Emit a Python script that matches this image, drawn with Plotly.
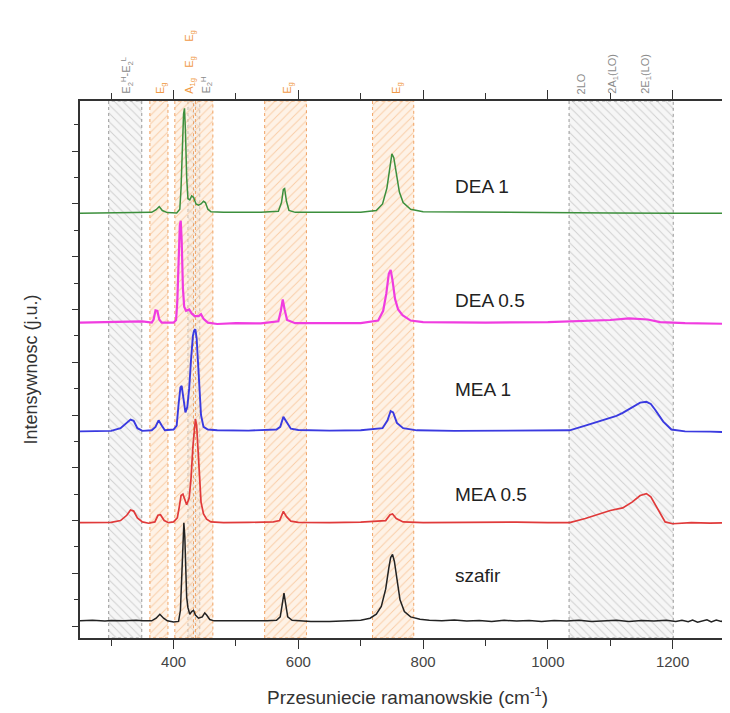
import plotly.graph_objects as go

# ---------------- data ----------------
szafir_x = [250, 270, 290, 300, 320, 340, 350, 365, 372, 378, 384, 390, 400, 408, 411, 413, 415, 416.5, 418, 419.5, 421, 423, 426, 429, 432, 435, 440, 446, 450, 453, 458, 465, 480, 500, 520, 550, 565, 571, 574, 577, 580, 583, 590, 620, 650, 680, 700, 715, 725, 733, 740, 745, 748, 751, 754, 758, 763, 770, 780, 795, 810, 830, 850, 870, 890, 910, 930, 950, 970, 990, 1010, 1030, 1050, 1070, 1090, 1110, 1130, 1150, 1170, 1190, 1205, 1215, 1225, 1232, 1240, 1248, 1255, 1262, 1270, 1278, 1285, 1292, 1300]
szafir_y = [0.20, 0.22, 0.19, 0.21, 0.20, 0.22, 0.20, 0.20, 0.30, 0.45, 0.30, 0.20, 0.16, 0.18, 0.6, 1.6, 3.2, 3.92, 3.4, 2.0, 1.1, 0.7, 0.45, 0.55, 0.60, 0.42, 0.30, 0.35, 0.50, 0.42, 0.25, 0.20, 0.20, 0.19, 0.20, 0.20, 0.22, 0.35, 0.8, 1.25, 0.8, 0.35, 0.22, 0.18, 0.18, 0.20, 0.22, 0.30, 0.45, 0.75, 1.4, 2.2, 2.6, 2.72, 2.45, 1.8, 1.0, 0.55, 0.35, 0.26, 0.22, 0.20, 0.23, 0.19, 0.21, 0.18, 0.22, 0.19, 0.21, 0.18, 0.21, 0.19, 0.22, 0.18, 0.21, 0.22, 0.18, 0.21, 0.19, 0.22, 0.18, 0.22, 0.17, 0.23, 0.15, 0.21, 0.24, 0.16, 0.23, 0.18, 0.25, 0.17, 0.21]

mea05_x = [250, 280, 300, 315, 325, 331, 336, 342, 350, 360, 370, 375, 379, 385, 392, 400, 406, 409, 412, 415, 418, 421, 425, 428, 431, 433, 435, 437, 439, 441, 444, 448, 453, 460, 480, 520, 560, 570, 576, 581, 588, 600, 650, 700, 740, 747, 751, 757, 768, 800, 850, 900, 950, 1000, 1035, 1060, 1080, 1100, 1120, 1135, 1148, 1158, 1165, 1172, 1180, 1188, 1200, 1230, 1260, 1300]
mea05_y = [3.92, 3.93, 3.93, 4.00, 4.20, 4.40, 4.36, 4.10, 3.95, 3.90, 3.95, 4.20, 4.22, 4.00, 3.92, 3.95, 4.10, 4.50, 4.95, 5.0, 4.75, 4.60, 4.85, 5.6, 6.8, 7.5, 7.85, 7.6, 6.6, 5.6, 4.7, 4.25, 4.05, 3.95, 3.92, 3.93, 3.95, 4.00, 4.35, 4.15, 3.98, 3.93, 3.92, 3.94, 4.00, 4.22, 4.25, 4.08, 3.95, 3.92, 3.93, 3.92, 3.94, 3.92, 3.92, 4.08, 4.22, 4.38, 4.48, 4.70, 4.95, 5.02, 4.90, 4.60, 4.25, 3.95, 3.88, 3.92, 3.90, 3.92]

mea1_x = [250, 280, 300, 315, 325, 331, 336, 342, 350, 365, 371, 376, 381, 386, 400, 405, 408, 411, 413, 416, 419, 422, 425, 428, 431, 433, 435, 437, 439, 441, 444, 448, 455, 470, 520, 565, 571, 576, 581, 588, 600, 650, 700, 735, 743, 748, 752, 758, 768, 790, 850, 900, 950, 1000, 1035, 1060, 1085, 1110, 1120, 1135, 1148, 1158, 1165, 1172, 1185, 1198, 1220, 1260, 1300]
mea1_y = [7.38, 7.39, 7.40, 7.50, 7.70, 7.83, 7.78, 7.50, 7.40, 7.42, 7.55, 7.80, 7.60, 7.42, 7.45, 7.60, 8.40, 9.05, 9.10, 8.60, 8.10, 8.30, 9.0, 10.1, 11.0, 11.2, 11.25, 10.9, 10.0, 9.0, 8.0, 7.55, 7.45, 7.42, 7.41, 7.45, 7.55, 7.93, 7.75, 7.48, 7.43, 7.41, 7.42, 7.50, 7.80, 8.15, 8.10, 7.70, 7.50, 7.42, 7.40, 7.41, 7.40, 7.41, 7.42, 7.60, 7.80, 7.97, 8.08, 8.30, 8.47, 8.50, 8.42, 8.20, 7.75, 7.45, 7.38, 7.37, 7.34]

dea05_x = [250, 300, 350, 365, 368, 371, 374, 377, 381, 400, 404, 406, 408, 410, 411.5, 413, 415, 417, 420, 425, 429, 434, 440, 444, 448, 455, 470, 500, 540, 568, 572, 575, 578, 582, 595, 650, 700, 728, 736, 741, 745, 748, 751, 755, 760, 767, 780, 800, 900, 1000, 1050, 1100, 1130, 1160, 1180, 1220, 1300]
dea05_y = [11.50, 11.52, 11.55, 11.50, 11.62, 11.97, 11.95, 11.62, 11.50, 11.50, 11.60, 12.3, 14.0, 15.2, 15.36, 14.6, 12.8, 12.1, 11.95, 12.0, 11.85, 11.75, 11.75, 11.82, 11.65, 11.50, 11.45, 11.48, 11.47, 11.55, 11.95, 12.38, 12.0, 11.6, 11.48, 11.47, 11.48, 11.58, 11.95, 12.6, 13.35, 13.5, 13.1, 12.4, 12.0, 11.78, 11.58, 11.52, 11.50, 11.52, 11.55, 11.60, 11.66, 11.62, 11.52, 11.48, 11.45]

dea1_x = [250, 300, 350, 365, 372, 377, 382, 390, 405, 410, 412, 414, 416, 417.5, 419, 421, 423, 426, 429, 432, 436, 440, 444, 448, 451, 455, 460, 480, 540, 568, 573, 576, 578, 581, 585, 595, 650, 700, 725, 735, 742, 747, 750, 753, 757, 762, 768, 780, 800, 900, 1000, 1100, 1200, 1300]
dea1_y = [15.65, 15.66, 15.67, 15.68, 15.78, 15.90, 15.75, 15.67, 15.66, 15.80, 16.6, 18.2, 19.4, 19.62, 18.8, 17.0, 16.2, 16.15, 16.30, 16.25, 16.0, 15.95, 16.0, 16.1, 16.05, 15.8, 15.70, 15.68, 15.68, 15.72, 16.05, 16.55, 16.58, 16.1, 15.75, 15.68, 15.67, 15.68, 15.75, 16.0, 16.6, 17.5, 17.9, 17.75, 17.1, 16.45, 16.05, 15.80, 15.70, 15.68, 15.67, 15.66, 15.65, 15.64]

series_names = ["DEA 1", "DEA 0.5", "MEA 1", "MEA 0.5", "szafir"]
series_x = [dea1_x, dea05_x, mea1_x, mea05_x, szafir_x]
series_y = [dea1_y, dea05_y, mea1_y, mea05_y, szafir_y]
series_colors = ["#3c8f3c", "#f03ce0", "#3a3ae0", "#e03a3a", "#222222"]
series_widths = [1.5, 2.2, 1.9, 1.7, 1.5]
label_x = [848, 848, 848, 848, 848]
label_y = [16.65, 12.35, 8.95, 4.98, 1.9]

orange_bands = [(362, 391), (402, 432), (435, 463), (546, 613), (719, 785)]
gray_bands = [(296, 349), (423, 442), (1034, 1201)]

orange_labels = [(380, "E<sub>g</sub>", 0), (426, "A<sub>1g</sub>", 0), (426, "E<sub>g</sub>", 1), (426, "E<sub>g</sub>", 2), (583, "E<sub>g</sub>", 0), (758, "E<sub>g</sub>", 0)]
gray_labels = [(324, "E<sub>2</sub><sup>H</sup>-E<sub>2</sub><sup>L</sup>", 0), (452, "E<sub>2</sub><sup>H</sup>", 0), (1053, "2LO", 0), (1104, "2A<sub>1</sub>(LO)", 0), (1157, "2E<sub>1</sub>(LO)", 0)]

x_range = [250, 1300]
y_range = [-0.45, 19.9]

# ---------------- figure ----------------
fig = go.Figure()

for a, b in gray_bands:
    fig.add_trace(go.Scatter(
        x=[a, a, b, b, a], y=[y_range[0], y_range[1], y_range[1], y_range[0], y_range[0]],
        mode="lines", fill="toself", fillcolor="rgba(235,235,235,0.6)",
        fillpattern=dict(shape="\\", fgcolor="#a8a8a8", bgcolor="rgba(238,238,238,0.55)", size=6, solidity=0.16),
        line=dict(color="#8f8f8f", width=0.9, dash="dot"), hoverinfo="skip", showlegend=False))

for a, b in orange_bands:
    fig.add_trace(go.Scatter(
        x=[a, a, b, b, a], y=[y_range[0], y_range[1], y_range[1], y_range[0], y_range[0]],
        mode="lines", fill="toself", fillcolor="rgba(253,228,200,0.5)",
        fillpattern=dict(shape="/", fgcolor="#f4a868", bgcolor="rgba(253,230,205,0.5)", size=6, solidity=0.16),
        line=dict(color="#ee9a55", width=0.9, dash="dot"), hoverinfo="skip", showlegend=False))

for name, xs, ys, c, w in zip(series_names, series_x, series_y, series_colors, series_widths):
    fig.add_trace(go.Scatter(x=xs, y=ys, mode="lines", name=name,
                             line=dict(color=c, width=w), showlegend=False))

annotations = []
for name, lx, ly in zip(series_names, label_x, label_y):
    annotations.append(dict(x=lx, y=ly, xref="x", yref="y", text=name, showarrow=False,
                            xanchor="left", yanchor="middle",
                            font=dict(family="Liberation Sans, Arial", size=19, color="#222")))

for lbls, col in ((orange_labels, "#f09a48"), (gray_labels, "#8a8a8a")):
    for xv, txt, level in lbls:
        annotations.append(dict(x=xv, y=1.0, xref="x", yref="paper", text=txt, showarrow=False,
                                textangle=-90, xanchor="center", yanchor="bottom",
                                yshift=5 + 26 * level,
                                font=dict(family="Liberation Sans, Arial", size=11, color=col)))

fig.update_layout(
    width=730, height=713,
    margin=dict(l=72, r=3, t=93, b=83, autoexpand=False),
    paper_bgcolor="white", plot_bgcolor="white",
    annotations=annotations,
    font=dict(family="Liberation Sans, Arial", color="#333"),
    xaxis=dict(range=x_range, tick0=0, dtick=200, ticks="outside", ticklen=9, tickwidth=1.2,
               tickcolor="#333", showline=True, linecolor="#333", linewidth=1.5, mirror="ticks",
               showgrid=False, zeroline=False, automargin=False,
               minor=dict(dtick=100, tick0=0, ticks="outside", ticklen=6, tickcolor="#333", showgrid=False),
               tickfont=dict(size=15, color="#444"),
               title=dict(text="Przesuniecie ramanowskie (cm<sup>-1</sup>)", font=dict(size=19, color="#333"), standoff=22)),
    yaxis=dict(range=y_range, tick0=0, dtick=2, ticks="outside", ticklen=6, tickwidth=1.2,
               tickcolor="#333", showline=True, linecolor="#333", linewidth=1.5, mirror="ticks",
               showgrid=False, zeroline=False, showticklabels=False, automargin=False,
               minor=dict(dtick=1, tick0=0, ticks="outside", ticklen=4, tickcolor="#333", showgrid=False),
               title=dict(text="Intensywnosc (j.u.)", font=dict(size=18, color="#333"), standoff=30)),
)

fig.write_html("out.html")
